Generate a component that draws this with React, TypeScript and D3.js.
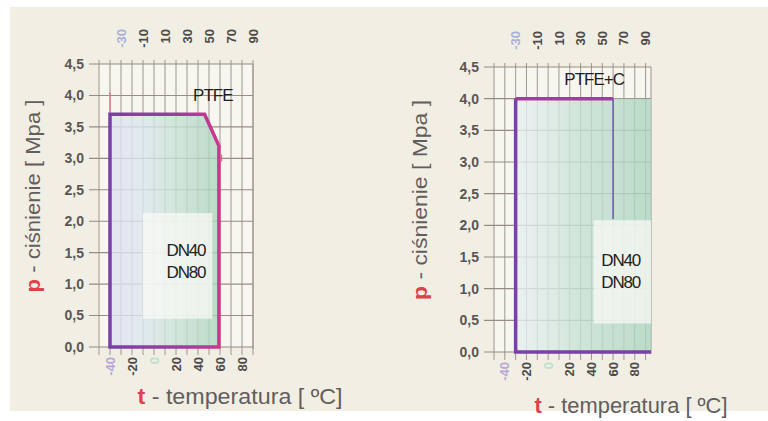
import React from "react";
import * as d3 from "d3";

// ---- data ----
const pressureTicks = [0, 0.5, 1, 1.5, 2, 2.5, 3, 3.5, 4, 4.5];
const bottomTempTicks = [-40, -20, 0, 20, 40, 60, 80];
const topTempTicks = [-30, -10, 10, 30, 50, 70, 90];
const gridTemps = [-50, -40, -30, -20, -10, 0, 10, 20, 30, 40, 50, 60, 70, 80, 90];

// PTFE operating envelope (closed polygon)
const ptfeTemp = [-40, -40, 46, 59, 59];
const ptfePress = [0, 3.7, 3.7, 3.2, 0];

// PTFE+C operating envelope (open path + limit line)
const ptfeCTemp = [95, -30, -30, 60];
const ptfeCPress = [0, 0, 4.0, 4.0];
const ptfeCLimitTemp = [60, 60];
const ptfeCLimitPress = [4.0, 2.1];
const ptfeCFillTemp = [-30, -30, 95, 95];
const ptfeCFillPress = [0, 4.0, 4.0, 0];

const sizeLabels = ["DN40", "DN80"];
const materials = ["PTFE", "PTFE+C"];

const FONT = "'Liberation Sans', Arial, sans-serif";
const fmt = (v: number) => d3.format(".1f")(v).replace(".", ",");

type Cfg = {
  id: string;
  tDomain: [number, number];
  xRange: [number, number];
  yRange: [number, number];
  material: string;
  matPos: [number, number];
  dnPos: [number, number, number];
  box: [number, number, number, number];
  yLabelX: number;
  topLabelY: number;
  bottomLabelY: number;
  yTitle: [number, number, number];
  xTitle: [number, number, number];
};

function Panel({ cfg, children }: { cfg: Cfg; children: (x: any, y: any) => React.ReactNode }) {
  const x = d3.scaleLinear().domain(cfg.tDomain).range(cfg.xRange);
  const y = d3.scaleLinear().domain([0, 4.5]).range(cfg.yRange);
  const [x0, x1] = cfg.xRange;
  const [yb, yt] = cfg.yRange;
  const [bt0, bt1, bp0, bp1] = cfg.box;
  return (
    <g>
      <rect x={x0} y={yt} width={x1 - x0} height={yb - yt} fill="#f7f6ef" />
      {/* grid */}
      <g stroke="#7f7370" strokeWidth={0.9} opacity={0.8}>
        {gridTemps.map((t) => (
          <line key={"v" + t} x1={x(t)} x2={x(t)} y1={yt - 4} y2={yb + 8} />
        ))}
        <line x1={x1} x2={x1} y1={yt} y2={yb + 2} />
        {pressureTicks.map((p) => (
          <line key={"h" + p} x1={x0 - 10} x2={x1} y1={y(p)} y2={y(p)} strokeWidth={1.1} />
        ))}
      </g>
      {children(x, y)}
      {/* white label box */}
      <rect x={x(bt0)} y={y(bp1)} width={x(bt1) - x(bt0)} height={y(bp0) - y(bp1)} fill="#fafaf6" opacity={0.75} />
      {/* y tick labels */}
      {pressureTicks.map((p) => (
        <text key={"yl" + p} x={cfg.yLabelX} y={y(p)} dy="0.35em" textAnchor="end" fontFamily={FONT}
          fontWeight="bold" fontSize={14} fill="#5a5555">{fmt(p)}</text>
      ))}
      {/* top tick labels */}
      {topTempTicks.map((t, i) => (
        <text key={"tt" + t} transform={`translate(${x(t)},${cfg.topLabelY}) rotate(-90)`} dy="0.35em"
          textAnchor="end" fontFamily={FONT} fontWeight="bold" fontSize={13}
          fill={i === 0 ? "#aab0dc" : "#4e4a4a"}>{t}</text>
      ))}
      {/* bottom tick labels */}
      {bottomTempTicks.map((t) => (
        <text key={"bt" + t} transform={`translate(${x(t)},${cfg.bottomLabelY}) rotate(-90)`} dy="0.35em"
          textAnchor="end" fontFamily={FONT} fontWeight="bold" fontSize={13}
          fill={t === -40 ? "#b9a6d9" : t === 0 ? "#bfe0cc" : "#4e4a4a"}>{t}</text>
      ))}
      {/* material name */}
      <text x={x(cfg.matPos[0])} y={y(cfg.matPos[1])} dy="0.35em" textAnchor="middle" fontFamily={FONT}
        fontSize={17} letterSpacing={-1} fill="#1e1e1e">{cfg.material}</text>
      {/* DN labels */}
      {sizeLabels.map((s, i) => (
        <text key={s} x={x(cfg.dnPos[0])} y={y(cfg.dnPos[1 + i])} dy="0.35em" textAnchor="middle"
          fontFamily={FONT} fontSize={17} letterSpacing={-1.2} fill="#222">{s}</text>
      ))}
      {/* axis titles */}
      <text transform={`translate(${cfg.yTitle[0]},${cfg.yTitle[1]}) rotate(-90)`} textAnchor="middle"
        fontFamily={FONT} fontSize={20} fill="#635d5d" textLength={cfg.yTitle[2]} lengthAdjust="spacingAndGlyphs">
        <tspan fill="#e0404a" fontWeight="bold">p</tspan> - ciśnienie [ Mpa ]
      </text>
      <text x={cfg.xTitle[0]} y={cfg.xTitle[1]} textAnchor="middle" fontFamily={FONT} fontSize={22}
        fill="#635d5d" textLength={cfg.xTitle[2]} lengthAdjust="spacingAndGlyphs">
        <tspan fill="#e0404a" fontWeight="bold">t</tspan> - temperatura [ ºC]
      </text>
    </g>
  );
}

const leftCfg: Cfg = {
  id: "l",
  tDomain: [-50, 90],
  xRange: [99, 253],
  yRange: [347, 64],
  material: materials[0],
  matPos: [53.5, 4.0],
  dnPos: [29, 1.54, 1.19],
  box: [-10, 53, 0.45, 2.13],
  yLabelX: 84,
  topLabelY: 29,
  bottomLabelY: 357,
  yTitle: [40, 196, 193],
  xTitle: [240, 404, 205],
};

const rightCfg: Cfg = {
  id: "r",
  tDomain: [-50, 95],
  xRange: [494, 651],
  yRange: [352, 67],
  material: materials[1],
  matPos: [42.5, 4.31],
  dnPos: [67, 1.45, 1.1],
  box: [42, 95, 0.45, 2.08],
  yLabelX: 479,
  topLabelY: 31,
  bottomLabelY: 362,
  yTitle: [427, 200, 200],
  xTitle: [631, 413, 193],
};

export default function App() {
  const line = d3.line<[number, number]>();
  return (
    <svg width={768} height={421} style={{ position: "absolute", left: 0, top: 0, background: "#ffffff" }}>
      <defs>
        <linearGradient id="fillL" x1="0" x2="1" y1="0" y2="0">
          <stop offset="0" stopColor="#dfe0f3" />
          <stop offset="0.3" stopColor="#dbe7ef" />
          <stop offset="0.6" stopColor="#c9e2d6" />
          <stop offset="1" stopColor="#acd5be" />
        </linearGradient>
        <linearGradient id="fillR" x1="0" x2="1" y1="0" y2="0">
          <stop offset="0" stopColor="#e8eef4" />
          <stop offset="0.25" stopColor="#d9eae4" />
          <stop offset="0.5" stopColor="#c3e0d2" />
          <stop offset="1" stopColor="#acd4bf" />
        </linearGradient>
        <linearGradient id="strokeL" gradientUnits="userSpaceOnUse" x1="110" x2="222" y1="0" y2="0">
          <stop offset="0" stopColor="#7a3fa8" />
          <stop offset="0.6" stopColor="#9a3f9f" />
          <stop offset="1" stopColor="#d2358a" />
        </linearGradient>
      </defs>
      <rect x={10} y={7} width={758} height={404} fill="#f1efe4" />
      <Panel cfg={leftCfg}>
        {(x, y) => {
          const pts = ptfeTemp.map((t, i) => [x(t), y(ptfePress[i])] as [number, number]);
          return (
            <g>
              <path d={line(pts) + "Z"} fill="url(#fillL)" opacity={0.8} />
              <line x1={x(-40)} x2={x(-40)} y1={y(4.05)} y2={y(3.7)} stroke="#e07080" strokeWidth={1.2} />
              <line x1={x(61.5)} x2={x(61.5)} y1={y(3.06)} y2={y(2.95)} stroke="#e07080" strokeWidth={1.2} />
            </g>
          );
        }}
      </Panel>
      <Panel cfg={rightCfg}>
        {(x, y) => {
          const fillPts = ptfeCFillTemp.map((t, i) => [x(t), y(ptfeCFillPress[i])] as [number, number]);
          return <path d={line(fillPts) + "Z"} fill="url(#fillR)" opacity={0.8} />;
        }}
      </Panel>
      {/* envelope outlines drawn on top */}
      {(() => {
        const xl = d3.scaleLinear().domain(leftCfg.tDomain).range(leftCfg.xRange);
        const yl = d3.scaleLinear().domain([0, 4.5]).range(leftCfg.yRange);
        const xr = d3.scaleLinear().domain(rightCfg.tDomain).range(rightCfg.xRange);
        const yr = d3.scaleLinear().domain([0, 4.5]).range(rightCfg.yRange);
        const lp = ptfeTemp.map((t, i) => [xl(t), yl(ptfePress[i])] as [number, number]);
        const rp = ptfeCTemp.map((t, i) => [xr(t), yr(ptfeCPress[i])] as [number, number]);
        const rl = ptfeCLimitTemp.map((t, i) => [xr(t), yr(ptfeCLimitPress[i])] as [number, number]);
        return (
          <g fill="none" strokeLinejoin="miter">
            <path d={line(lp) + "Z"} stroke="url(#strokeL)" strokeWidth={3.5} />
            <path d={line(rl)} stroke="#6a56b2" strokeWidth={1.5} />
            <path d={line(rp.slice(0, 3))} stroke="#7840a8" strokeWidth={3.5} />
            <path d={line(rp.slice(2))} stroke="#a23d9c" strokeWidth={3.5} />
          </g>
        );
      })()}
    </svg>
  );
}
